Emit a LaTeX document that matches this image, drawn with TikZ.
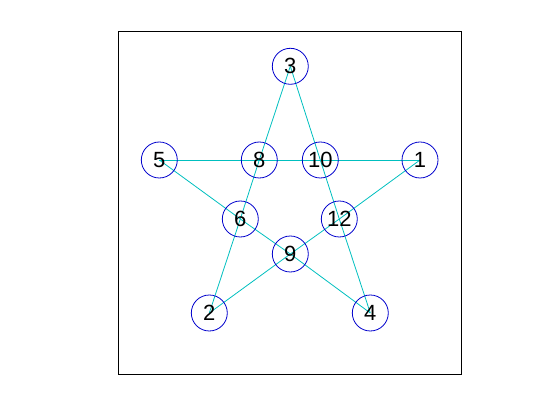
\documentclass[tikz,border=0pt]{standalone}
\usepackage{fontspec}
\setmainfont{Liberation Sans}
\usetikzlibrary{backgrounds}
\definecolor{edgecol}{rgb}{0,0.75,0.75}
\definecolor{circcol}{rgb}{0,0,0.8}
\begin{document}
\begin{tikzpicture}[x=1pt,y=1pt,
  vtx/.style={circle,draw=circcol,line width=0.8pt,minimum size=36pt,inner sep=0pt,
    font=\fontsize{22}{22}\selectfont,text=black},
  edge/.style={draw=edgecol,line width=0.8pt}]
\useasboundingbox (0,0) rectangle (560,420);
\draw[line width=0.8pt] (118.5,45.5) rectangle (461.5,388.5);
\foreach \n/\x/\y in {3/290.3/66.3, 5/159.3/160, 8/259.3/160, 10/320.3/160, 1/420/160,
  6/240.3/219, 12/339.3/219, 9/290.3/254, 2/209.3/313, 4/370.3/313}
  \node[vtx] (v\n) at (\x,420-\y) {\n};
\begin{scope}[on background layer]
\foreach \a/\b in {3/8, 8/6, 6/2, 3/10, 10/12, 12/4, 5/8, 8/10, 10/1, 5/6, 6/9, 9/4, 1/12, 12/9, 9/2}
  \draw[edge] (v\a.center) -- (v\b.center);
\end{scope}
\end{tikzpicture}
\end{document}
